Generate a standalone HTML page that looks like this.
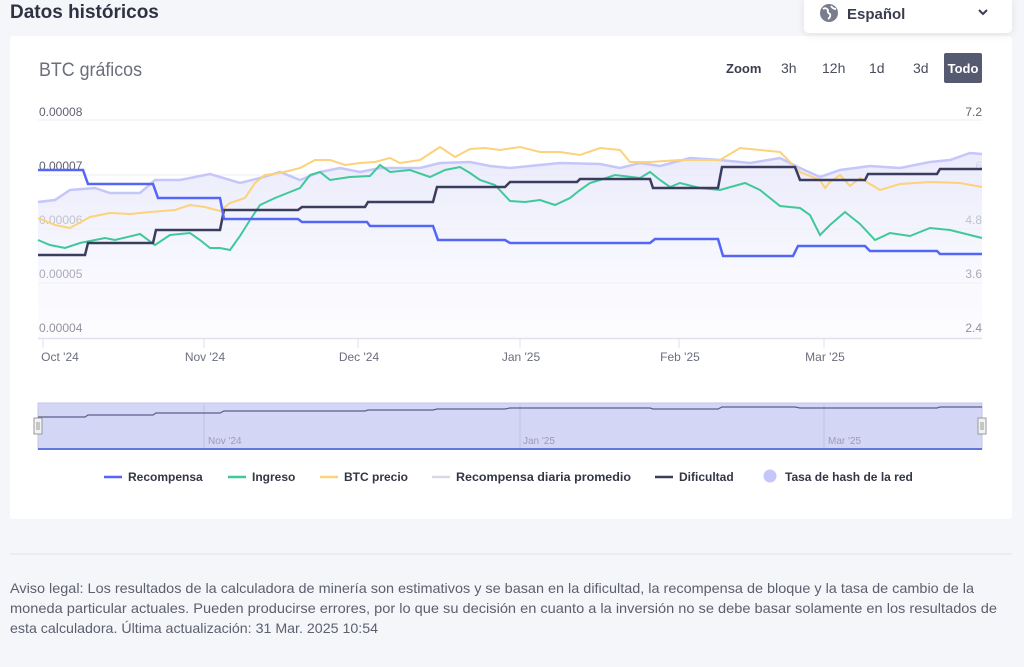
<!DOCTYPE html>
<html><head><meta charset="utf-8"><style>
html,body{margin:0;padding:0;background:#f5f6fa;}
svg{display:block;font-family:"Liberation Sans",sans-serif;}
</style></head><body>
<svg width="1024" height="667" viewBox="0 0 1024 667" xmlns="http://www.w3.org/2000/svg">
<defs>
<linearGradient id="ga" x1="0" y1="0" x2="0" y2="1">
<stop offset="0" stop-color="#e8e8fb" stop-opacity="0.9"/>
<stop offset="1" stop-color="#f6f6fe" stop-opacity="0.3"/>
</linearGradient>
<filter id="sh" x="-10%" y="-30%" width="120%" height="160%"><feDropShadow dx="0" dy="2" stdDeviation="4" flood-color="#000" flood-opacity="0.08"/></filter>
</defs>
<rect width="1024" height="667" fill="#f5f6fa"/>
<text x="10" y="18" font-size="19" font-weight="bold" fill="#2f3242">Datos históricos</text>
<rect x="10" y="36" width="1002" height="483" fill="#fff" rx="3"/>
<rect x="804" y="-4" width="208" height="37" rx="5" fill="#fff" filter="url(#sh)"/>
<circle cx="829" cy="13" r="9" fill="#7a7e8c"/>
<path d="M823 9 q3 -2 5 1 q-1 3 2 4 q1 3 -2 5 M831 6 q2 3 5 3" stroke="#fff" stroke-width="1.8" fill="none"/>
<text x="847" y="19" font-size="15" font-weight="bold" fill="#3a3d4d">Español</text>
<path d="M979 10 l4 4 l4 -4" stroke="#3a3d4d" stroke-width="2" fill="none"/>
<text x="39" y="76" font-size="19" fill="#6b6e7c" textLength="103" lengthAdjust="spacingAndGlyphs">BTC gráficos</text>
<text x="726" y="73" font-size="13" font-weight="bold" fill="#3a3d4d">Zoom</text>
<text x="781" y="73" font-size="14" fill="#4a4d5c">3h</text>
<text x="822" y="73" font-size="14" fill="#4a4d5c">12h</text>
<text x="869" y="73" font-size="14" fill="#4a4d5c">1d</text>
<text x="913" y="73" font-size="14" fill="#4a4d5c">3d</text>
<rect x="944" y="53" width="38" height="30" rx="2" fill="#555a70"/>
<text x="963" y="73" font-size="13" font-weight="bold" fill="#fff" text-anchor="middle">Todo</text>
<g stroke="#eeeef3" stroke-width="1">
<line x1="38" y1="120" x2="982" y2="120"/><line x1="38" y1="175" x2="982" y2="175"/><line x1="38" y1="229" x2="982" y2="229"/><line x1="38" y1="283" x2="982" y2="283"/>
</g>
<g font-size="12" fill="#5f6272">
<text x="39" y="116">0.00008</text><text x="39" y="170">0.00007</text><text x="39" y="224">0.00006</text><text x="39" y="278">0.00005</text><text x="39" y="332">0.00004</text>
<g text-anchor="end"><text x="982" y="116">7.2</text><text x="982" y="170">6</text><text x="982" y="224">4.8</text><text x="982" y="278">3.6</text><text x="982" y="332">2.4</text></g>
</g>
<polygon fill="url(#ga)" points="38,202 55,200 70,190 95,188 110,193 140,193 155,180 180,180 210,174 240,183 260,178 280,172 300,180 320,172 340,168 360,172 380,168 420,168 440,163 470,162 490,166 510,168 530,166 560,163 600,164 620,168 640,163 660,166 690,158 720,160 750,163 780,158 800,168 820,177 840,170 870,166 900,168 930,162 950,160 970,153 982,154 982,338 38,338"/>
<polyline fill="none" stroke="#c5c6fa" stroke-width="2.5" points="38,202 55,200 70,190 95,188 110,193 140,193 155,180 180,180 210,174 240,183 260,178 280,172 300,180 320,172 340,168 360,172 380,168 420,168 440,163 470,162 490,166 510,168 530,166 560,163 600,164 620,168 640,163 660,166 690,158 720,160 750,163 780,158 800,168 820,177 840,170 870,166 900,168 930,162 950,160 970,153 982,154"/>
<polyline fill="none" stroke="#fcd27a" stroke-width="2" points="38,218 55,225 70,228 90,217 110,213 130,214 150,212 175,210 190,205 205,207 220,211 230,203 245,198 255,183 265,175 280,173 300,168 315,160 330,160 345,165 360,163 375,162 390,158 400,163 420,160 440,147 455,157 470,149 485,148 500,150 520,147 540,152 560,152 580,155 600,148 620,150 630,162 650,162 680,160 700,160 720,160 740,148 760,150 780,152 800,172 820,180 825,188 830,182 840,175 850,186 860,178 880,190 900,184 930,182 960,183 982,187"/>
<polyline fill="none" stroke="#3fc99a" stroke-width="2" points="38,240 50,245 65,248 80,243 95,240 105,238 115,240 140,234 155,245 170,235 190,233 200,240 210,248 220,248 230,250 240,236 250,220 260,205 275,198 290,192 300,188 310,175 320,172 330,180 350,177 370,176 380,165 390,172 410,170 430,177 445,170 460,167 470,173 480,180 495,185 510,201 525,202 540,200 555,205 570,198 580,190 590,183 600,180 615,175 640,178 650,172 660,180 670,187 680,183 700,188 720,190 745,183 760,190 780,206 800,208 810,215 820,235 830,225 845,212 860,224 875,240 890,233 910,236 930,228 950,230 970,235 982,238"/>
<polyline fill="none" stroke="#3b3d5e" stroke-width="2.5" points="38,255 85,255 88,243 153,243 156,230 220,230 224,210 298,210 302,207 365,207 368,202 433,202 437,187 505,187 510,182 577,182 580,179 650,179 653,188 718,188 722,167 795,167 800,180 865,180 868,174 937,174 940,169 982,169"/>
<polyline fill="none" stroke="#5466f5" stroke-width="2.5" points="38,170 83,170 88,184 153,184 158,198 220,198 224,219 298,219 302,222 367,222 370,226 433,226 438,240 505,240 510,243 650,243 655,239 718,239 723,256 793,256 798,246 865,246 870,251 937,251 940,254 982,254"/>
<line x1="38" y1="338.5" x2="982" y2="338.5" stroke="#dfe1ee" stroke-width="1.5"/>
<g stroke="#dfe1ee"><line x1="43" y1="339" x2="43" y2="348"/><line x1="204" y1="339" x2="204" y2="348"/><line x1="358" y1="339" x2="358" y2="348"/><line x1="520" y1="339" x2="520" y2="348"/><line x1="679" y1="339" x2="679" y2="348"/><line x1="824" y1="339" x2="824" y2="348"/></g>
<g font-size="12" fill="#6b6e7c" text-anchor="middle">
<text x="60" y="361">Oct '24</text><text x="205" y="361">Nov '24</text><text x="359" y="361">Dec '24</text><text x="521" y="361">Jan '25</text><text x="680" y="361">Feb '25</text><text x="825" y="361">Mar '25</text>
</g>
<rect x="38" y="403" width="944" height="46" fill="#d4d6f5" stroke="#c3c6e8"/>
<g stroke="#c0c3e4"><line x1="204" y1="404" x2="204" y2="449"/><line x1="520" y1="404" x2="520" y2="449"/><line x1="824" y1="404" x2="824" y2="449"/></g>
<polyline fill="none" stroke="#5a5f8c" stroke-width="1.2" points="38,417 85,417 88,415 153,415 156,413 220,413 224,411 298,411 302,411 365,411 368,410 433,410 437,409 505,409 510,408 577,408 580,408 650,408 653,409 718,409 722,407 795,407 800,408 865,408 868,408 937,408 940,407 982,407"/>
<line x1="38" y1="449" x2="982" y2="449" stroke="#5f78e0" stroke-width="2"/>
<g font-size="10" fill="#9a9db5"><text x="208" y="444">Nov '24</text><text x="523" y="444">Jan '25</text><text x="828" y="444">Mar '25</text></g>
<rect x="34" y="418" width="8" height="16" fill="#f2f2f2" stroke="#999"/><line x1="37" y1="422" x2="37" y2="430" stroke="#999"/><line x1="39" y1="422" x2="39" y2="430" stroke="#999"/>
<rect x="978" y="418" width="8" height="16" fill="#f2f2f2" stroke="#999"/><line x1="981" y1="422" x2="981" y2="430" stroke="#999"/><line x1="983" y1="422" x2="983" y2="430" stroke="#999"/>
<g font-size="12" font-weight="bold" fill="#333645">
<line x1="104" y1="477" x2="122" y2="477" stroke="#5466f5" stroke-width="2.5"/><text x="128" y="481">Recompensa</text>
<line x1="228" y1="477" x2="246" y2="477" stroke="#3fc99a" stroke-width="2.5"/><text x="252" y="481">Ingreso</text>
<line x1="320" y1="477" x2="338" y2="477" stroke="#fcd27a" stroke-width="2.5"/><text x="344" y="481">BTC precio</text>
<line x1="432" y1="477" x2="450" y2="477" stroke="#d8d9e6" stroke-width="2.5"/><text x="456" y="481" textLength="175" lengthAdjust="spacingAndGlyphs">Recompensa diaria promedio</text>
<line x1="655" y1="477" x2="673" y2="477" stroke="#3b3d5e" stroke-width="2.5"/><text x="679" y="481">Dificultad</text>
<circle cx="770" cy="476" r="6.5" fill="#c5c6fa"/><text x="785" y="481">Tasa de hash de la red</text>
</g>
<line x1="10" y1="554" x2="1012" y2="554" stroke="#e3e4ea"/>
<g font-size="14" fill="#5c5f6e">
<text x="10" y="593" textLength="964" lengthAdjust="spacingAndGlyphs">Aviso legal: Los resultados de la calculadora de minería son estimativos y se basan en la dificultad, la recompensa de bloque y la tasa de cambio de la</text>
<text x="10" y="613" textLength="987" lengthAdjust="spacingAndGlyphs">moneda particular actuales. Pueden producirse errores, por lo que su decisión en cuanto a la inversión no se debe basar solamente en los resultados de</text>
<text x="10" y="633" textLength="368" lengthAdjust="spacingAndGlyphs">esta calculadora. Última actualización: 31 Mar. 2025 10:54</text>
</g>
</svg>
</body></html>
